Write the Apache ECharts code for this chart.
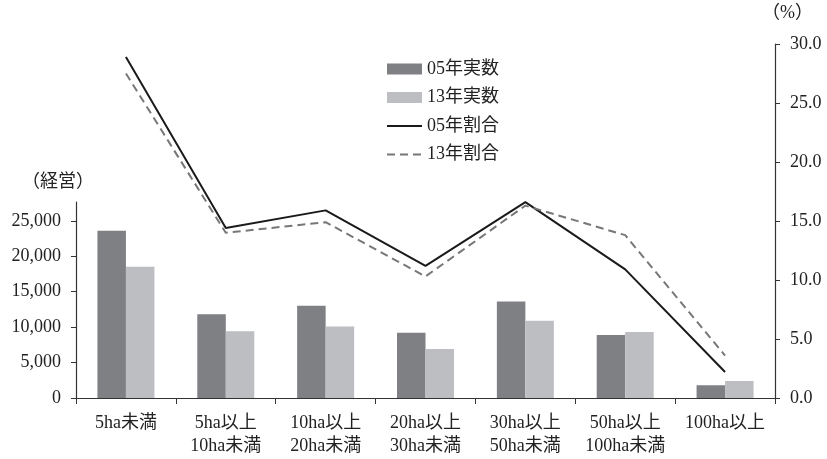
<!DOCTYPE html>
<html>
<head>
<meta charset="utf-8">
<script src="https://cdn.jsdelivr.net/npm/echarts@6/dist/echarts.min.js"></script>
<style>
  html, body { margin: 0; padding: 0; background: #fff; }
  #chart { width: 827px; height: 459px; }
</style>
</head>
<body>
<div id="chart"></div>
<script>
// 経営規模別の経営体数（棒）と割合（折れ線）
const categories = ['5ha未満', '5ha以上\n10ha未満', '10ha以上\n20ha未満', '20ha以上\n30ha未満',
                    '30ha以上\n50ha未満', '50ha以上\n100ha未満', '100ha以上'];
const count05 = [23600, 11800, 13000, 9200, 13600, 8900, 1800];
const count13 = [18500, 9400, 10100, 6900, 10900, 9300, 2400];
const share05 = [28.9, 14.4, 15.9, 11.2, 16.6, 10.9, 2.2];
const share13 = [27.5, 14.0, 14.9, 10.3, 16.3, 13.8, 3.6];
const countTicks = [0, 5000, 10000, 15000, 20000, 25000];

const FONT = '"Liberation Serif", "Noto Sans CJK JP", serif';
const TEXT = '#222';
const AXIS = '#333';

const fmtThousands = v => String(v).replace(/\B(?=(\d{3})+(?!\d))/g, ',');

const chart = echarts.init(document.getElementById('chart'), null, { renderer: 'canvas' });

chart.setOption({
  backgroundColor: '#fff',
  animation: false,
  textStyle: { fontFamily: FONT, color: TEXT },
  title: [
    { text: '（経営）', left: 22, top: 173, padding: 0,
      textStyle: { fontFamily: FONT, fontSize: 18, fontWeight: 'normal', color: TEXT } },
    { text: '（%）', left: 762, top: 4, padding: 0,
      textStyle: { fontFamily: FONT, fontSize: 18, fontWeight: 'normal', color: TEXT } }
  ],
  legend: {
    orient: 'vertical',
    left: 386,
    top: 59,
    padding: 0,
    itemWidth: 35,
    itemHeight: 11,
    itemGap: 8.5,
    textStyle: { fontFamily: FONT, fontSize: 18, color: TEXT, lineHeight: 20 },
    data: [
      { name: '05年実数', icon: 'rect' },
      { name: '13年実数', icon: 'rect' },
      { name: '05年割合', itemStyle: { opacity: 0 } },
      { name: '13年割合', itemStyle: { opacity: 0 } }
    ]
  },
  grid: [
    { left: 76, right: 52, top: 202, bottom: 61 },
    { left: 76, right: 52, top: 44, bottom: 61 }
  ],
  xAxis: [
    {
      type: 'category', gridIndex: 0, data: categories,
      axisLine: { lineStyle: { color: AXIS, width: 1.2 } },
      axisTick: { show: true, length: 6, alignWithLabel: false, lineStyle: { color: AXIS } },
      axisLabel: { fontFamily: FONT, fontSize: 18, color: TEXT, lineHeight: 23, margin: 14, interval: 0 }
    },
    {
      type: 'category', gridIndex: 1, data: categories,
      show: false
    }
  ],
  yAxis: [
    {
      type: 'value', gridIndex: 0, position: 'left',
      min: 0, max: 27650,
      axisLine: { show: true, lineStyle: { color: AXIS, width: 1.2 } },
      axisTick: { show: true, length: 5, lineStyle: { color: AXIS }, customValues: countTicks },
      axisLabel: { fontFamily: FONT, fontSize: 18, color: TEXT, margin: 15,
                   customValues: countTicks, formatter: fmtThousands },
      splitLine: { show: false }
    },
    {
      type: 'value', gridIndex: 1, position: 'right',
      min: 0, max: 30, interval: 5,
      axisLine: { show: true, lineStyle: { color: AXIS, width: 1.2 } },
      axisTick: { show: true, length: 5, lineStyle: { color: AXIS } },
      axisLabel: { fontFamily: FONT, fontSize: 18, color: TEXT, margin: 15,
                   formatter: v => v.toFixed(1) },
      splitLine: { show: false }
    }
  ],
  series: [
    {
      name: '05年実数', type: 'bar', xAxisIndex: 0, yAxisIndex: 0,
      data: count05, barWidth: 28.5, barGap: '0%',
      itemStyle: { color: '#7f8084' }
    },
    {
      name: '13年実数', type: 'bar', xAxisIndex: 0, yAxisIndex: 0,
      data: count13, barWidth: 28.5, barGap: '0%',
      itemStyle: { color: '#bdbec2' }
    },
    {
      name: '05年割合', type: 'line', xAxisIndex: 1, yAxisIndex: 1,
      data: share05, symbol: 'none',
      lineStyle: { color: '#1a1a1a', width: 2 },
      itemStyle: { color: '#1a1a1a' }
    },
    {
      name: '13年割合', type: 'line', xAxisIndex: 1, yAxisIndex: 1,
      data: share13, symbol: 'none',
      lineStyle: { color: '#777', width: 2, type: [8, 5] },
      itemStyle: { color: '#777' }
    }
  ]
});
</script>
</body>
</html>
